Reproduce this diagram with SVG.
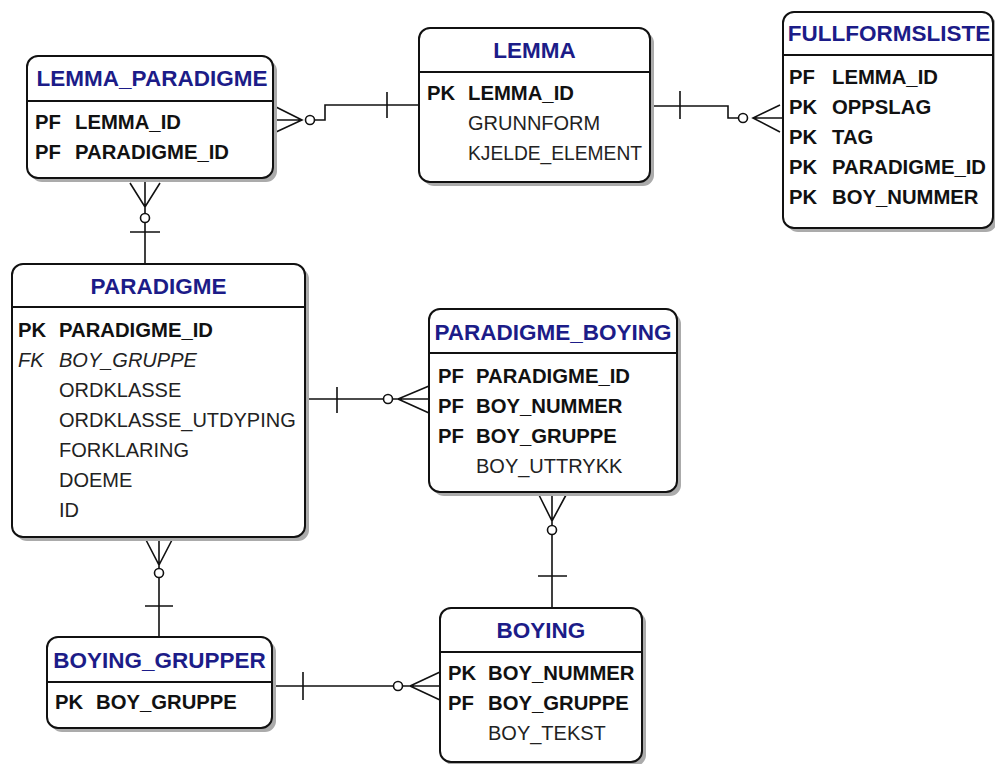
<svg xmlns="http://www.w3.org/2000/svg" width="995" height="764" viewBox="0 0 995 764">
<style>
.sh{fill:#ababab}
.bx{fill:#fff;stroke:#111;stroke-width:2}
.dv{stroke:#111;stroke-width:2}
.t{font-family:"Liberation Sans",Arial,sans-serif;font-weight:bold;font-size:22.5px;fill:#1c1c88;text-anchor:middle}
.k{font-family:"Liberation Sans",Arial,sans-serif;font-weight:bold;font-size:20.3px;fill:#111}
.n{font-family:"Liberation Sans",Arial,sans-serif;font-size:20px;fill:#222}
.i{font-family:"Liberation Sans",Arial,sans-serif;font-style:italic;font-size:20px;fill:#222}
.c{fill:none;stroke:#111;stroke-width:1.6}
.o{fill:#fff;stroke:#111;stroke-width:1.6}
</style>
<rect width="995" height="764" fill="#fff"/>
<g id="connectors">
<path class="c" d="M273 120H302M276 107L302 120L276 132M314.5 120H325V105H419M387 92V118"/>
<circle class="o" cx="310" cy="120" r="4.5"/>
<path class="c" d="M650 106H728V118H738.5M753 118H783M780 105L753 118L780 132M680 91V119"/>
<circle class="o" cx="743" cy="118" r="4.5"/>
<path class="c" d="M145 178V213.5M145 222.5V264M130 183L145 207L160 183M130 232H160"/>
<circle class="o" cx="145" cy="218" r="4.5"/>
<path class="c" d="M305 399H383.5M392.5 399H429M429 386L398 399L429 413M337 387V413"/>
<circle class="o" cx="388" cy="399" r="4.5"/>
<path class="c" d="M159 537V568.5M159 577.5V637M145 538L159 565L173 538M145 606H173"/>
<circle class="o" cx="159" cy="573" r="4.5"/>
<path class="c" d="M552 492V525.5M552 534.5V608M539 495L552 521L566 495M538 576H567"/>
<circle class="o" cx="552" cy="530" r="4.5"/>
<path class="c" d="M272 686H393.5M402.5 686H440M440 672L410 686L440 700M303 672V700"/>
<circle class="o" cx="398" cy="686" r="4.5"/>
</g>
<g id="LEMMA_PARADIGME">
<rect class="sh" x="31" y="60" width="246" height="122" rx="11"/>
<rect class="bx" x="27" y="56" width="246" height="122" rx="11"/>
<line class="dv" x1="27" y1="101" x2="273" y2="101"/>
<text class="t" x="152" y="86">LEMMA_PARADIGME</text>
<text class="k" x="35" y="129">PF</text><text class="k" x="75" y="129">LEMMA_ID</text>
<text class="k" x="35" y="159">PF</text><text class="k" x="75" y="159">PARADIGME_ID</text>
</g>
<g id="LEMMA">
<rect class="sh" x="423" y="32" width="231" height="154" rx="11"/>
<rect class="bx" x="419" y="28" width="231" height="154" rx="11"/>
<line class="dv" x1="419" y1="72" x2="650" y2="72"/>
<text class="t" x="534.5" y="58">LEMMA</text>
<text class="k" x="427" y="100">PK</text><text class="k" x="468" y="100">LEMMA_ID</text>
<text class="n" x="468" y="130">GRUNNFORM</text>
<text class="n" x="468" y="160" textLength="174" lengthAdjust="spacingAndGlyphs">KJELDE_ELEMENT</text>
</g>
<g id="FULLFORMSLISTE">
<rect class="sh" x="787" y="16" width="210" height="216" rx="11"/>
<rect class="bx" x="783" y="12" width="210" height="216" rx="11"/>
<line class="dv" x1="783" y1="55" x2="993" y2="55"/>
<text class="t" x="889" y="41">FULLFORMSLISTE</text>
<text class="k" x="789" y="84">PF</text><text class="k" x="832" y="84">LEMMA_ID</text>
<text class="k" x="789" y="114">PK</text><text class="k" x="832" y="114">OPPSLAG</text>
<text class="k" x="789" y="144">PK</text><text class="k" x="832" y="144">TAG</text>
<text class="k" x="789" y="174">PK</text><text class="k" x="832" y="174">PARADIGME_ID</text>
<text class="k" x="789" y="204">PK</text><text class="k" x="832" y="204">BOY_NUMMER</text>
</g>
<g id="PARADIGME">
<rect class="sh" x="16" y="268" width="293" height="273" rx="11"/>
<rect class="bx" x="12" y="264" width="293" height="273" rx="11"/>
<line class="dv" x1="12" y1="307" x2="305" y2="307"/>
<text class="t" x="158.5" y="294">PARADIGME</text>
<text class="k" x="18" y="337">PK</text><text class="k" x="59" y="337">PARADIGME_ID</text>
<text class="i" x="18" y="367">FK</text><text class="i" x="59" y="367">BOY_GRUPPE</text>
<text class="n" x="59" y="397">ORDKLASSE</text>
<text class="n" x="59" y="427">ORDKLASSE_UTDYPING</text>
<text class="n" x="59" y="457">FORKLARING</text>
<text class="n" x="59" y="487">DOEME</text>
<text class="n" x="59" y="517">ID</text>
</g>
<g id="PARADIGME_BOYING">
<rect class="sh" x="433" y="313" width="248" height="183" rx="11"/>
<rect class="bx" x="429" y="309" width="248" height="183" rx="11"/>
<line class="dv" x1="429" y1="353" x2="677" y2="353"/>
<text class="t" x="553" y="340">PARADIGME_BOYING</text>
<text class="k" x="438" y="383">PF</text><text class="k" x="476" y="383">PARADIGME_ID</text>
<text class="k" x="438" y="413">PF</text><text class="k" x="476" y="413">BOY_NUMMER</text>
<text class="k" x="438" y="443">PF</text><text class="k" x="476" y="443">BOY_GRUPPE</text>
<text class="n" x="476" y="473">BOY_UTTRYKK</text>
</g>
<g id="BOYING_GRUPPER">
<rect class="sh" x="51" y="641" width="225" height="91" rx="11"/>
<rect class="bx" x="47" y="637" width="225" height="91" rx="11"/>
<line class="dv" x1="47" y1="682" x2="272" y2="682"/>
<text class="t" x="159.5" y="668">BOYING_GRUPPER</text>
<text class="k" x="55" y="709">PK</text><text class="k" x="96" y="709">BOY_GRUPPE</text>
</g>
<g id="BOYING">
<rect class="sh" x="444" y="612" width="202" height="154" rx="11"/>
<rect class="bx" x="440" y="608" width="202" height="154" rx="11"/>
<line class="dv" x1="440" y1="652" x2="642" y2="652"/>
<text class="t" x="541" y="638">BOYING</text>
<text class="k" x="448" y="680">PK</text><text class="k" x="488" y="680">BOY_NUMMER</text>
<text class="k" x="448" y="710">PF</text><text class="k" x="488" y="710">BOY_GRUPPE</text>
<text class="n" x="488" y="740">BOY_TEKST</text>
</g>
</svg>
